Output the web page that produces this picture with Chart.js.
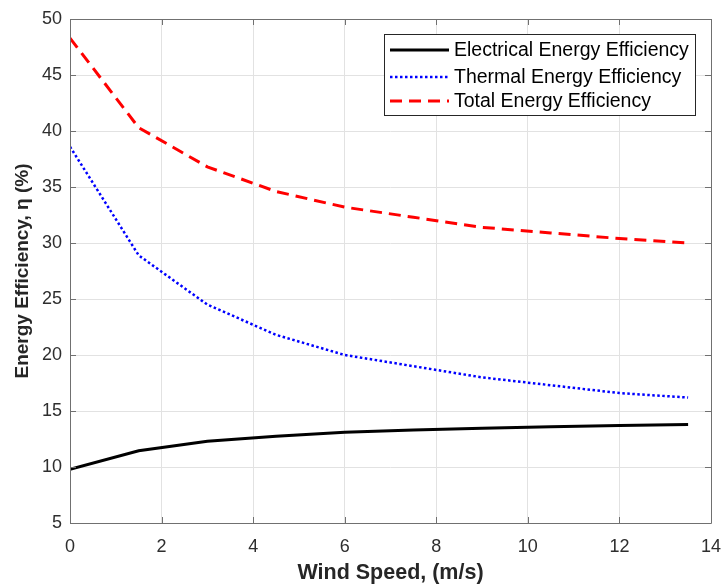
<!DOCTYPE html>
<html>
<head>
<meta charset="utf-8">
<script src="https://cdn.jsdelivr.net/npm/chart.js@4.4.1/dist/chart.umd.min.js"></script>
<style>
  html, body { margin: 0; padding: 0; background: #ffffff; }
  #wrap { width: 723px; height: 584px; }
</style>
</head>
<body>
<div id="wrap"><canvas id="c" width="723" height="584"></canvas></div>
<script>
// ---- data ----
const windSpeed = [0, 1.5, 3, 4.5, 6, 7.5, 9, 10.5, 12, 13.5];
const electricalEff = [9.8, 11.45, 12.3, 12.75, 13.1, 13.3, 13.45, 13.6, 13.7, 13.8];
const thermalEff = [38.6, 28.9, 24.5, 21.8, 20.0, 19.0, 18.0, 17.3, 16.6, 16.2];
const totalEff = [48.3, 40.3, 36.8, 34.6, 33.2, 32.3, 31.4, 30.9, 30.4, 30.0];
const seriesNames = ['Electrical Energy Efficiency', 'Thermal Energy Efficiency', 'Total Energy Efficiency'];
const xTitle = 'Wind Speed, (m/s)';
const yTitle = 'Energy Efficiency, \u03B7 (%)';

const AXIS_COLOR = '#707070';
const TEXT_COLOR = '#2e2e2e';
const FONT = 'Arial, "Liberation Sans", Helvetica, sans-serif';

function pts(xs, ys) { return xs.map((x, i) => ({ x: x, y: ys[i] })); }

const boxPlugin = {
  id: 'matlabBox',
  afterDatasetsDraw(chart) {
    const { ctx, chartArea: a, scales } = chart;
    ctx.save();
    ctx.strokeStyle = AXIS_COLOR;
    ctx.lineWidth = 1;
    ctx.setLineDash([]);
    ctx.beginPath();
    ctx.rect(Math.round(a.left) + 0.5, Math.round(a.top) + 0.5, Math.round(a.right - a.left), Math.round(a.bottom - a.top));
    ctx.stroke();
    const L = 6;
    ctx.beginPath();
    scales.x.ticks.forEach(t => {
      const px = Math.round(scales.x.getPixelForValue(t.value)) + 0.5;
      ctx.moveTo(px, a.bottom); ctx.lineTo(px, a.bottom - L);
      ctx.moveTo(px, a.top); ctx.lineTo(px, a.top + L);
    });
    scales.y.ticks.forEach(t => {
      const py = Math.round(scales.y.getPixelForValue(t.value)) + 0.5;
      ctx.moveTo(a.left, py); ctx.lineTo(a.left + L, py);
      ctx.moveTo(a.right, py); ctx.lineTo(a.right - L, py);
    });
    ctx.stroke();
    ctx.restore();
  }
};

const legendPlugin = {
  id: 'insideLegend',
  afterDraw(chart) {
    const { ctx } = chart;
    const x0 = 384, y0 = 34, w = 311, h = 81;
    ctx.save();
    ctx.fillStyle = '#ffffff';
    ctx.fillRect(x0, y0, w, h);
    ctx.strokeStyle = '#262626';
    ctx.lineWidth = 1;
    ctx.setLineDash([]);
    ctx.strokeRect(x0 + 0.5, y0 + 0.5, w, h);
    const rows = [50, 77, 101];
    ctx.font = '19.5px ' + FONT;
    ctx.textBaseline = 'middle';
    ctx.textAlign = 'left';
    chart.data.datasets.forEach((ds, i) => {
      const y = rows[i];
      ctx.strokeStyle = ds.borderColor;
      ctx.lineWidth = ds.borderWidth;
      ctx.setLineDash(ds.borderDash || []);
      ctx.lineCap = 'butt';
      ctx.beginPath();
      ctx.moveTo(390, y);
      ctx.lineTo(449, y);
      ctx.stroke();
      ctx.setLineDash([]);
      ctx.fillStyle = '#000000';
      ctx.fillText(ds.label, 454, y + 1);
    });
    ctx.restore();
  }
};

new Chart(document.getElementById('c'), {
  type: 'line',
  data: {
    datasets: [
      { label: seriesNames[0], data: pts(windSpeed, electricalEff), borderColor: '#000000', borderWidth: 3, pointRadius: 0, fill: false, tension: 0 },
      { label: seriesNames[1], data: pts(windSpeed, thermalEff), borderColor: '#0000ff', borderWidth: 2.5, borderDash: [2.5, 2.5], pointRadius: 0, fill: false, tension: 0 },
      { label: seriesNames[2], data: pts(windSpeed, totalEff), borderColor: '#ff0000', borderWidth: 3, borderDash: [12, 7], pointRadius: 0, fill: false, tension: 0 }
    ]
  },
  options: {
    responsive: false,
    animation: false,
    devicePixelRatio: 1,
    layout: { padding: { left: 11, right: 12, top: 19, bottom: 0 } },
    plugins: { legend: { display: false }, tooltip: { enabled: false } },
    scales: {
      x: {
        type: 'linear', min: 0, max: 14,
        ticks: { stepSize: 2, color: TEXT_COLOR, font: { family: FONT, size: 18 }, padding: 13, maxRotation: 0 },
        grid: { color: '#e2e2e2', lineWidth: 1, drawTicks: false },
        border: { display: false },
        title: { display: true, text: xTitle, color: '#262626', font: { family: FONT, size: 21.5, weight: 'bold', lineHeight: 1.05 }, padding: { top: 0, bottom: 0 } },
        afterFit(s) { s.height = 61; s.paddingLeft = 0; s.paddingRight = 0; }
      },
      y: {
        type: 'linear', min: 5, max: 50,
        ticks: { stepSize: 5, color: TEXT_COLOR, font: { family: FONT, size: 18 }, padding: 8 },
        grid: { color: '#e2e2e2', lineWidth: 1, drawTicks: false },
        border: { display: false },
        title: { display: true, text: yTitle, color: '#262626', font: { family: FONT, size: 19, weight: 'bold' }, padding: { top: 0, bottom: 0 } },
        afterFit(s) { s.width = 59; s.paddingTop = 0; s.paddingBottom = 0; }
      }
    }
  },
  plugins: [boxPlugin, legendPlugin]
});
</script>
</body>
</html>
